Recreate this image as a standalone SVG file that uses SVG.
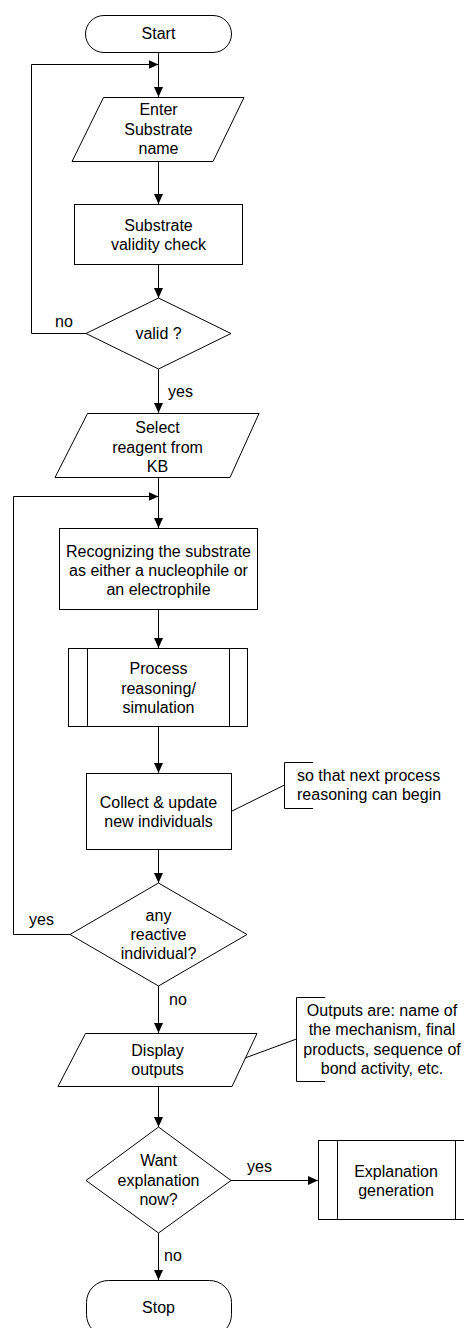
<svg xmlns="http://www.w3.org/2000/svg" width="464" height="1328" viewBox="0 0 464 1328">
<defs>
<marker id="arr" markerWidth="10" markerHeight="10" refX="10" refY="4.5" orient="auto" markerUnits="userSpaceOnUse">
<path d="M0,0 L10,4.5 L0,9 z" fill="#000"/>
</marker>
<style>
.s{fill:#fff;stroke:#000;stroke-width:1}
.l{fill:none;stroke:#000;stroke-width:1}
.c{stroke:#000;stroke-width:1;fill:none;marker-end:url(#arr)}
text{font-family:"Liberation Sans",Arial,sans-serif;font-size:16px;fill:#000}
.m{text-anchor:middle}
</style>
</defs>
<rect width="464" height="1328" fill="#fff"/>
<g id="connectors">
<line class="c" x1="158.5" y1="52" x2="158.5" y2="97"/>
<polyline class="c" points="86,333.5 31.5,333.5 31.5,64.5 158.5,64.5"/>
<line class="c" x1="158.5" y1="161" x2="158.5" y2="204"/>
<line class="c" x1="158.5" y1="264" x2="158.5" y2="298"/>
<line class="c" x1="158.5" y1="369" x2="158.5" y2="413"/>
<line class="c" x1="158.5" y1="477" x2="158.5" y2="528"/>
<polyline class="c" points="70,934.5 13.5,934.5 13.5,496.5 158.5,496.5"/>
<line class="c" x1="158.5" y1="609" x2="158.5" y2="648"/>
<line class="c" x1="158.5" y1="726" x2="158.5" y2="773"/>
<line class="c" x1="158.5" y1="849" x2="158.5" y2="883"/>
<line class="c" x1="158.5" y1="986" x2="158.5" y2="1033"/>
<line class="c" x1="158.5" y1="1086" x2="158.5" y2="1127"/>
<line class="c" x1="231" y1="1180.5" x2="318" y2="1180.5"/>
<line class="c" x1="158.5" y1="1233" x2="158.5" y2="1280"/>
<line class="l" x1="232" y1="811" x2="284.5" y2="785"/>
<line class="l" x1="245" y1="1058" x2="296.5" y2="1039"/>
<text x="55" y="327">no</text>
<text x="168" y="397">yes</text>
<text x="29" y="925">yes</text>
<text x="169" y="1005">no</text>
<text x="247" y="1172">yes</text>
<text x="164" y="1261">no</text>
</g>
<g id="start">
<rect class="s" x="85.5" y="15.5" width="146" height="37" rx="18.5"/>
<text class="m" x="158.5" y="39">Start</text>
</g>
<g id="enter">
<polygon class="s" points="103.5,97.5 244,97.5 213,161.5 72,161.5"/>
<text class="m" x="158.5" y="115">Enter</text>
<text class="m" x="158.5" y="134.5">Substrate</text>
<text class="m" x="158.5" y="154">name</text>
</g>
<g id="check">
<rect class="s" x="74.5" y="204.5" width="168" height="60"/>
<text class="m" x="158.5" y="231">Substrate</text>
<text class="m" x="158.5" y="250">validity check</text>
</g>
<g id="valid">
<polygon class="s" points="158.5,298 231,333.5 158.5,369 86,333.5"/>
<text class="m" x="158.5" y="339">valid ?</text>
</g>
<g id="select">
<polygon class="s" points="87.5,413.5 259,413.5 230,477.5 55,477.5"/>
<text class="m" x="157.5" y="433">Select</text>
<text class="m" x="157.5" y="452.5">reagent from</text>
<text class="m" x="157.5" y="472">KB</text>
</g>
<g id="recognize">
<rect class="s" x="59.5" y="528.5" width="198" height="81"/>
<text class="m" x="158.5" y="557">Recognizing the substrate</text>
<text class="m" x="158.5" y="576">as either a nucleophile or</text>
<text class="m" x="158.5" y="595">an electrophile</text>
</g>
<g id="process">
<rect class="s" x="68.5" y="648.5" width="179" height="78"/>
<line class="l" x1="87.5" y1="648.5" x2="87.5" y2="726.5"/>
<line class="l" x1="229.5" y1="648.5" x2="229.5" y2="726.5"/>
<text class="m" x="158.5" y="674">Process</text>
<text class="m" x="158.5" y="693.5">reasoning/</text>
<text class="m" x="158.5" y="713">simulation</text>
</g>
<g id="collect">
<rect class="s" x="86.5" y="773.5" width="145" height="76"/>
<text class="m" x="158.5" y="808">Collect &amp; update</text>
<text class="m" x="158.5" y="827">new individuals</text>
</g>
<g id="note1">
<polyline class="l" points="313,762.5 284.5,762.5 284.5,808.5 313,808.5"/>
<text x="297" y="781">so that next process</text>
<text x="297" y="800">reasoning can begin</text>
</g>
<g id="reactive">
<polygon class="s" points="158.5,883 247,934.5 158.5,986 70,934.5"/>
<text class="m" x="158.5" y="921">any</text>
<text class="m" x="158.5" y="940">reactive</text>
<text class="m" x="158.5" y="959">individual?</text>
</g>
<g id="display">
<polygon class="s" points="85.5,1033.5 257,1033.5 232,1086.5 58,1086.5"/>
<text class="m" x="157.5" y="1056">Display</text>
<text class="m" x="157.5" y="1075">outputs</text>
</g>
<g id="note2">
<polyline class="l" points="325,997.5 296.5,997.5 296.5,1081.5 325,1081.5"/>
<text class="m" x="382" y="1016">Outputs are: name of</text>
<text class="m" x="382" y="1035">the mechanism, final</text>
<text class="m" x="382" y="1054.5">products, sequence of</text>
<text class="m" x="382" y="1074">bond activity, etc.</text>
</g>
<g id="want">
<polygon class="s" points="158.5,1127 231,1180.5 158.5,1233 86,1180.5"/>
<text class="m" x="158.5" y="1166">Want</text>
<text class="m" x="158.5" y="1185.5">explanation</text>
<text class="m" x="158.5" y="1205">now?</text>
</g>
<g id="explain">
<rect class="s" x="318.5" y="1140.5" width="156" height="79"/>
<line class="l" x1="337.5" y1="1140.5" x2="337.5" y2="1219.5"/>
<line class="l" x1="455.5" y1="1140.5" x2="455.5" y2="1219.5"/>
<text class="m" x="396" y="1177">Explanation</text>
<text class="m" x="396" y="1195.5">generation</text>
</g>
<g id="stop">
<rect class="s" x="86.5" y="1280.5" width="145" height="56" rx="22"/>
<text class="m" x="158.5" y="1313">Stop</text>
</g>
</svg>
